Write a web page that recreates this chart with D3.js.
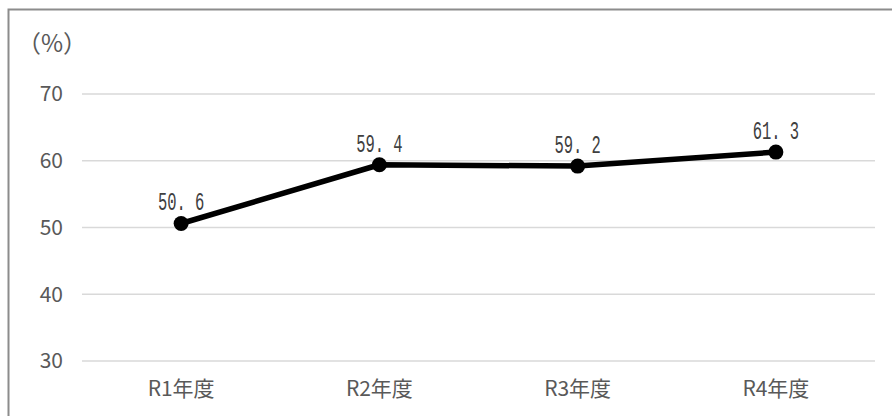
<!DOCTYPE html>
<html>
<head>
<meta charset="utf-8">
<script src="https://cdn.jsdelivr.net/npm/d3@7"></script>
<style>
  html, body { margin: 0; padding: 0; background: #fff; }
  svg { display: block; }
</style>
</head>
<body>
<svg id="chart" width="892" height="416"></svg>
<script>
// Survey rate by fiscal year (%)
const categories = ["R1年度", "R2年度", "R3年度", "R4年度"];
const values = [50.6, 59.4, 59.2, 61.3];
const yTicks = [30, 40, 50, 60, 70];
const unitLabel = "（%）";

const svg = d3.select("#chart");
const W = 892, H = 416;
const plot = { left: 82, right: 875, top: 94, bottom: 361 };
const labelFont = "'Noto Sans CJK JP', 'Noto Sans', sans-serif";

// Outer frame
svg.append("rect")
  .attr("x", 8.5).attr("y", 9.5)
  .attr("width", W + 10).attr("height", H + 10)
  .attr("fill", "#fff")
  .attr("stroke", "#8c8c8c")
  .attr("stroke-width", 2);

const x = d3.scaleBand()
  .domain(categories)
  .range([plot.left, plot.right]);

const y = d3.scaleLinear()
  .domain([30, 70])
  .range([plot.bottom, plot.top]);

// Horizontal gridlines
svg.append("g")
  .selectAll("line")
  .data(yTicks)
  .join("line")
  .attr("x1", plot.left).attr("x2", plot.right)
  .attr("y1", d => y(d)).attr("y2", d => y(d))
  .attr("stroke", "#d9d9d9")
  .attr("stroke-width", 1.5);

// Y axis labels
const yAxis = d3.axisLeft(y).tickValues(yTicks).tickSize(0).tickPadding(0);
const gy = svg.append("g")
  .attr("transform", `translate(63,0)`)
  .call(yAxis);
gy.select(".domain").remove();
gy.selectAll("text")
  .attr("fill", "#595959")
  .attr("dy", "0.33em")
  .style("font-family", labelFont)
  .style("font-size", "21px");

// X axis labels
const xAxis = d3.axisBottom(x).tickSize(0).tickPadding(0);
const gx = svg.append("g")
  .attr("transform", `translate(0,${plot.bottom + 18})`)
  .call(xAxis);
gx.select(".domain").remove();
gx.selectAll("text")
  .attr("fill", "#595959")
  .attr("dy", "0.8em")
  .style("font-family", labelFont)
  .style("font-size", "21px");

// Unit label
svg.append("text")
  .attr("x", 17).attr("y", 52)
  .attr("fill", "#595959")
  .style("font-family", labelFont)
  .style("font-size", "24px")
  .text(unitLabel);

const cx = d => x(d) + x.bandwidth() / 2;
const pts = categories.map((c, i) => ({ c, v: values[i] }));

// Line
svg.append("path")
  .datum(pts)
  .attr("fill", "none")
  .attr("stroke", "#000")
  .attr("stroke-width", 5.5)
  .attr("stroke-linejoin", "round")
  .attr("d", d3.line().x(d => cx(d.c)).y(d => y(d.v)));

// Markers
svg.append("g")
  .selectAll("circle")
  .data(pts)
  .join("circle")
  .attr("cx", d => cx(d.c))
  .attr("cy", d => y(d.v))
  .attr("r", 7.5)
  .attr("fill", "#000");

// Value labels
svg.append("g")
  .selectAll("text")
  .data(pts)
  .join("text")
  .attr("transform", d => `translate(${cx(d.c)},${y(d.v) - 13}) scale(0.62,1)`)
  .attr("text-anchor", "middle")
  .attr("fill", "#404040")
  .style("font-family", "'Liberation Mono', 'DejaVu Sans Mono', monospace")
  .style("font-size", "25px")
  .text(d => d.v.toFixed(1).replace(".", ". "));
</script>
</body>
</html>
